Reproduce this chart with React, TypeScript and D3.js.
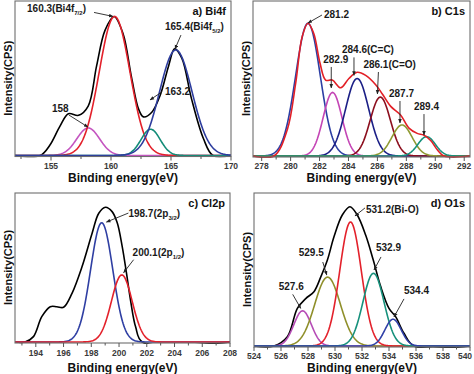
import React, { useRef, useEffect } from 'react';
import * as d3 from 'd3';

// ---- a) Bi4f ----
const bi4fCenters = [158.1, 160.3, 163.3, 165.4];
const bi4fHeights = [0.178, 0.9, 0.17, 0.683];
const bi4fWidths = [0.95, 1.27, 0.8, 1.35];
const bi4fEnvelope = [
  [152, 0], [154.1, 0], [154.9, 0.066], [155.75, 0.19], [156.45, 0.27], [157.3, 0.26],
  [158.1, 0.32], [158.8, 0.58], [159.5, 0.81], [160.25, 0.9], [161.0, 0.79], [161.7, 0.51],
  [162.3, 0.3], [162.7, 0.25], [163.4, 0.28], [164.1, 0.39], [164.8, 0.58], [165.3, 0.69],
  [165.9, 0.63], [166.7, 0.37], [167.7, 0.11], [168.5, 0], [170, 0],
];
const bi4fNotes = ['160.3(Bi4f|7/2|)', '165.4(Bi4f|5/2|)', '158', '163.2'];
const bi4fNoteEnergy = [160.17, 165.33, 158.08, 163.25];
const bi4fNoteIntensity = [0.9, 0.689, 0.184, 0.36];

// ---- b) C1s ----
const c1sCenters = [281.2, 282.9, 284.6, 286.2, 287.7, 289.4];
const c1sHeights = [0.856, 0.41, 0.5, 0.38, 0.2, 0.125];
const c1sWidths = [0.85, 0.65, 0.8, 0.7, 0.7, 0.6];
const c1sEnvelope = [
  [277.4, 0], [278.85, 0], [279.77, 0.17], [280.35, 0.47], [280.8, 0.77], [281.2, 0.856],
  [281.6, 0.79], [282.03, 0.6], [282.42, 0.49], [282.88, 0.49], [283.46, 0.44], [284.03, 0.5],
  [284.6, 0.54], [285.19, 0.52], [285.88, 0.46], [286.34, 0.4], [286.92, 0.32], [287.6, 0.265],
  [288.18, 0.18], [288.75, 0.146], [289.2, 0.135], [289.68, 0.1], [290.14, 0.04], [290.6, 0],
  [292.4, 0],
];
const c1sNotes = ['281.2', '282.9', '284.6(C=C)', '286.1(C=O)', '287.7', '289.4'];
const c1sNoteEnergy = [281.2, 282.81, 284.38, 286.0, 287.56, 289.22];
const c1sNoteIntensity = [0.858, 0.439, 0.52, 0.4, 0.213, 0.135];

// ---- c) Cl2p ----
const cl2pCenters = [198.75, 200.2];
const cl2pHeights = [0.8, 0.45];
const cl2pWidths = [0.8, 0.75];
const cl2pEnvelope = [
  [192.5, 0], [193.22, 0], [193.83, 0.036], [194.43, 0.17], [195.04, 0.237], [195.52, 0.237],
  [196.0, 0.233], [196.61, 0.327], [197.33, 0.505], [198.06, 0.73], [198.54, 0.864],
  [199.02, 0.904], [199.5, 0.875], [199.87, 0.8], [200.23, 0.64], [200.54, 0.46], [200.83, 0.28],
  [201.2, 0.1], [201.68, 0], [208, 0],
];
const cl2pNotes = ['198.7(2p|3/2|)', '200.1(2p|1/2|)'];
const cl2pNoteEnergy = [199.09, 200.33];
const cl2pNoteIntensity = [0.805, 0.465];

// ---- d) O1s ----
const o1sCenters = [527.6, 529.45, 531.15, 532.85, 534.3];
const o1sHeights = [0.23, 0.45, 0.81, 0.475, 0.175];
const o1sWidths = [0.65, 0.95, 0.8, 0.78, 0.6];
const o1sEnvelope = [
  [524, 0], [525.48, 0], [526.47, 0.06], [527.21, 0.246], [527.83, 0.31], [528.44, 0.355],
  [528.94, 0.45], [529.43, 0.56], [529.93, 0.715], [530.54, 0.856], [531.11, 0.91],
  [531.65, 0.856], [532.27, 0.725], [532.84, 0.56], [533.38, 0.39], [534.0, 0.246],
  [534.5, 0.19], [535.11, 0.083], [535.85, 0], [540, 0],
];
const o1sNotes = ['531.2(Bi-O)', '529.5', '532.9', '527.6', '534.4'];
const o1sNoteEnergy = [531.48, 529.39, 532.89, 527.46, 534.37];
const o1sNoteIntensity = [0.85, 0.464, 0.497, 0.246, 0.19];

// styles / layout
const panels = [
  {
    x0: 15, x1: 231, y0: 1, y1: 155.5, domain: [152, 170], step: 5, tickY: 169, titleY: 182,
    label: 'a) Bi4f', centers: bi4fCenters, heights: bi4fHeights, widths: bi4fWidths,
    colors: ['#c455c0', '#e3212b', '#138c78', '#2d3d9e'], envelope: bi4fEnvelope, envColor: '#000', envOnTop: false,
    notes: bi4fNotes, noteE: bi4fNoteEnergy, noteI: bi4fNoteIntensity,
    textOff: [[-86, -4], [-10, -19], [-36, -15], [15, -5]],
    tailOff: [[-19, -4], [6, -14], [-19, -12], [12, -8]],
  },
  {
    x0: 253, x1: 470, y0: 1, y1: 156, domain: [277.4, 292.4], step: 2, tickY: 169, titleY: 182,
    label: 'b) C1s', centers: c1sCenters, heights: c1sHeights, widths: c1sWidths,
    colors: ['#2c3ea3', '#c445b5', '#1b1f86', '#8c0f1e', '#8f9a32', '#17917c'], envelope: c1sEnvelope, envColor: '#e21f26', envOnTop: true,
    notes: c1sNotes, noteE: c1sNoteEnergy, noteI: c1sNoteIntensity,
    textOff: [[16, -5], [-8, -25], [-12, -22], [-14, -26], [-11, -26], [-10, -25]],
    tailOff: [[14, -8], [0, -21], [0, -18], [1, -22], [0, -22], [0, -21]],
  },
  {
    x0: 15, x1: 230, y0: 193, y1: 342, domain: [192.5, 208], step: 2, tickY: 356, titleY: 372,
    label: 'c) Cl2p', centers: cl2pCenters, heights: cl2pHeights, widths: cl2pWidths,
    colors: ['#2f3fa3', '#e3212b'], envelope: cl2pEnvelope, envColor: '#000', envOnTop: false,
    notes: cl2pNotes, noteE: cl2pNoteEnergy, noteI: cl2pNoteIntensity,
    textOff: [[22, -5], [9, -17]],
    tailOff: [[22, -9], [10, -13]],
  },
  {
    x0: 254, x1: 470, y0: 193, y1: 346, domain: [524, 540], step: 2, tickY: 359, titleY: 372,
    label: 'd) O1s', centers: o1sCenters, heights: o1sHeights, widths: o1sWidths,
    colors: ['#b64cb6', '#8f8f2a', '#e3212b', '#17917c', '#3041a8'], envelope: o1sEnvelope, envColor: '#000', envOnTop: false,
    notes: o1sNotes, noteE: o1sNoteEnergy, noteI: o1sNoteIntensity,
    textOff: [[11, -3], [-28, -19], [2, -19], [-22, -18], [10, -23]],
    tailOff: [[10, -8], [-4, -13], [7, -13], [-8, -14], [10, -18]],
  },
];

const FONT = '"Liberation Sans", Arial, sans-serif';

const App = () => {
  const ref = useRef<SVGSVGElement>(null);

  useEffect(() => {
    const svg = d3.select(ref.current);
    svg.selectAll('*').remove();

    const defs = svg.append('defs');
    defs.append('marker')
      .attr('id', 'arr')
      .attr('viewBox', '0 0 10 10')
      .attr('refX', 9).attr('refY', 5)
      .attr('markerWidth', 5).attr('markerHeight', 5)
      .attr('orient', 'auto')
      .append('path').attr('d', 'M0,1 L10,5 L0,9 z').attr('fill', '#222');

    panels.forEach((p, pi) => {
      const x = d3.scaleLinear().domain(p.domain).range([p.x0, p.x1]);
      const y = d3.scaleLinear().domain([0, 1]).range([p.y1, p.y0]);
      const g = svg.append('g');

      defs.append('clipPath').attr('id', 'clip' + pi)
        .append('rect').attr('x', p.x0).attr('y', p.y0).attr('width', p.x1 - p.x0).attr('height', p.y1 - p.y0 + 2);

      const plot = g.append('g').attr('clip-path', `url(#clip${pi})`);
      const line = d3.line<number[]>().x(d => x(d[0])).y(d => y(d[1]));
      const xs = d3.range(p.domain[0], p.domain[1] + 0.02, 0.05);

      const drawEnv = () => plot.append('path')
        .attr('d', line.curve(d3.curveCatmullRom)(p.envelope as any))
        .attr('fill', 'none').attr('stroke', p.envColor).attr('stroke-width', 1.6);

      if (!p.envOnTop) drawEnv();
      p.centers.forEach((c, i) => {
        const pts = xs.map(v => [v, p.heights[i] * Math.exp(-((v - c) ** 2) / (2 * p.widths[i] ** 2))]);
        plot.append('path')
          .attr('d', line.curve(d3.curveLinear)(pts))
          .attr('fill', 'none').attr('stroke', p.colors[i]).attr('stroke-width', 1.6);
      });
      if (p.envOnTop) drawEnv();

      // frame
      g.append('rect')
        .attr('x', p.x0).attr('y', p.y0).attr('width', p.x1 - p.x0).attr('height', p.y1 - p.y0 + 1)
        .attr('fill', 'none').attr('stroke', '#6e6e6e').attr('stroke-width', 1.1);

      // ticks
      const base = p.y1 + 1;
      const first = Math.ceil(p.domain[0] / p.step) * p.step;
      const majors = d3.range(first, p.domain[1] + 0.01, p.step);
      const minors = d3.range(first - p.step / 2, p.domain[1] + 0.01, p.step)
        .filter(v => v >= p.domain[0] - 0.01);
      g.selectAll('.mj').data(majors).enter().append('line')
        .attr('x1', d => x(d)).attr('x2', d => x(d)).attr('y1', base).attr('y2', base + 4)
        .attr('stroke', '#555').attr('stroke-width', 1);
      g.selectAll('.mn').data(minors).enter().append('line')
        .attr('x1', d => x(d)).attr('x2', d => x(d)).attr('y1', base).attr('y2', base + 2.5)
        .attr('stroke', '#555').attr('stroke-width', 1);
      g.selectAll('.tl').data(majors).enter().append('text')
        .attr('x', d => Math.min(x(d), 473 - 8))
        .attr('y', p.tickY)
        .attr('text-anchor', 'middle').attr('font-family', FONT).attr('font-weight', 'bold')
        .attr('font-size', 8.5).attr('fill', '#3a3a3a')
        .text(d => d3.format('d')(d));

      // titles
      g.append('text')
        .attr('x', (p.x0 + p.x1) / 2).attr('y', p.titleY)
        .attr('text-anchor', 'middle').attr('font-family', FONT).attr('font-weight', 'bold')
        .attr('font-size', 12).attr('fill', '#111')
        .text('Binding energy(eV)');
      const cy = (p.y0 + p.y1) / 2;
      g.append('text')
        .attr('transform', `translate(${p.x0 - 3},${cy}) rotate(-90)`)
        .attr('text-anchor', 'middle').attr('font-family', FONT).attr('font-weight', 'bold')
        .attr('font-size', 11).attr('fill', '#111')
        .text('Intensity(CPS)');
      g.append('text')
        .attr('x', p.x1 - 5).attr('y', p.y0 + 14)
        .attr('text-anchor', 'end').attr('font-family', FONT).attr('font-weight', 'bold')
        .attr('font-size', 11).attr('fill', '#111')
        .text(p.label);

      // annotations
      p.notes.forEach((n, i) => {
        const tx = x(p.noteE[i]);
        const ty = y(p.noteI[i]);
        g.append('line')
          .attr('x1', tx + p.tailOff[i][0]).attr('y1', ty + p.tailOff[i][1])
          .attr('x2', tx).attr('y2', ty)
          .attr('stroke', '#222').attr('stroke-width', 0.9)
          .attr('marker-end', 'url(#arr)');
        const parts = n.split('|');
        const t = g.append('text')
          .attr('x', tx + p.textOff[i][0]).attr('y', ty + p.textOff[i][1])
          .attr('font-family', FONT).attr('font-weight', 'bold')
          .attr('font-size', 10).attr('fill', '#1a1a1a');
        t.append('tspan').text(parts[0]);
        if (parts.length > 1) {
          t.append('tspan').attr('font-size', 6).attr('dy', 3).text(parts[1]);
          t.append('tspan').attr('dy', -3).text(parts[2]);
        }
      });
    });
  }, []);

  return (
    <div style={{ position: 'absolute', left: 0, top: 0 }}>
      <svg ref={ref} width={474} height={374} style={{ background: '#fff', display: 'block' }} />
    </div>
  );
};

export default App;
